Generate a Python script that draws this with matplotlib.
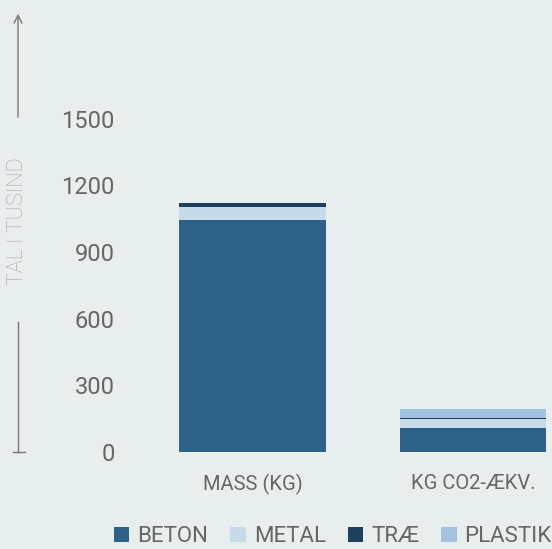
import matplotlib.pyplot as plt
import numpy as np

categories = ["MASS (KG)", "KG CO2-ÆKV."]
beton = [1045, 107]
metal = [58, 42]
trae = [17, 3]
plastik = [2, 41]
series_names = ["BETON", "METAL", "TRÆ", "PLASTIK"]
yticks = [0, 300, 600, 900, 1200, 1500]

colors = ["#2e6289", "#c6dcea", "#1f3f5c", "#a2c3df"]
bg = "#e8eeee"
txt = "#666666"

plt.rcParams['font.family'] = ['Roboto', 'DejaVu Sans']

fig = plt.figure(figsize=(5.52, 5.49), dpi=100, facecolor=bg)
W, H = 552, 549
# axes in pixel coordinates: left 130, bottom at y=452, top at y=12
ax = fig.add_axes([130 / W, (H - 452) / H, (W - 130) / W, (452 - 12) / H])
ax.set_facecolor(bg)

x = np.arange(len(categories))
bottom = np.zeros(len(categories))
for name, vals, c in zip(series_names, [beton, metal, trae, plastik], colors):
    ax.bar(x, vals, width=0.665, bottom=bottom, color=c, label=name)
    bottom += np.array(vals)

ax.set_xlim(-0.556, 1.358)
ax.set_ylim(0, 1980)
ax.set_yticks(yticks)
ax.set_yticklabels([str(v) for v in yticks], fontsize=17, color=txt)
ax.set_xticks(x)
ax.set_xticklabels(categories, fontsize=14.5, color=txt)
ax.tick_params(axis='y', length=0, pad=11)
ax.tick_params(axis='x', length=0, pad=16)
for s in ax.spines.values():
    s.set_visible(False)

# y axis title with arrow lines
fig.text(18 / W, 1 - 221 / H, "TAL I TUSIND", rotation=90, ha='center', va='center',
         fontsize=15.5, color="#a6a6a6", fontweight='light')
fig.add_artist(plt.Line2D([18 / W, 18 / W], [1 - 452 / H, 1 - 322 / H], color="#777777", lw=1))
fig.add_artist(plt.Line2D([13 / W, 25 / W], [1 - 452 / H, 1 - 452 / H], color="#777777", lw=1))
ax.annotate("", xy=(18 / W, 1 - 11 / H), xytext=(18 / W, 1 - 120 / H),
            xycoords='figure fraction', textcoords='figure fraction',
            arrowprops=dict(arrowstyle='->', color="#777777", lw=1, mutation_scale=14))

fig.legend(loc='lower center', bbox_to_anchor=(0.603, -0.033), ncol=4, frameon=False,
           fontsize=16, labelcolor=txt, handlelength=0.7, handleheight=0.7,
           handletextpad=0.35, columnspacing=1.0)

fig.savefig("out.png", dpi=100, facecolor=bg)
